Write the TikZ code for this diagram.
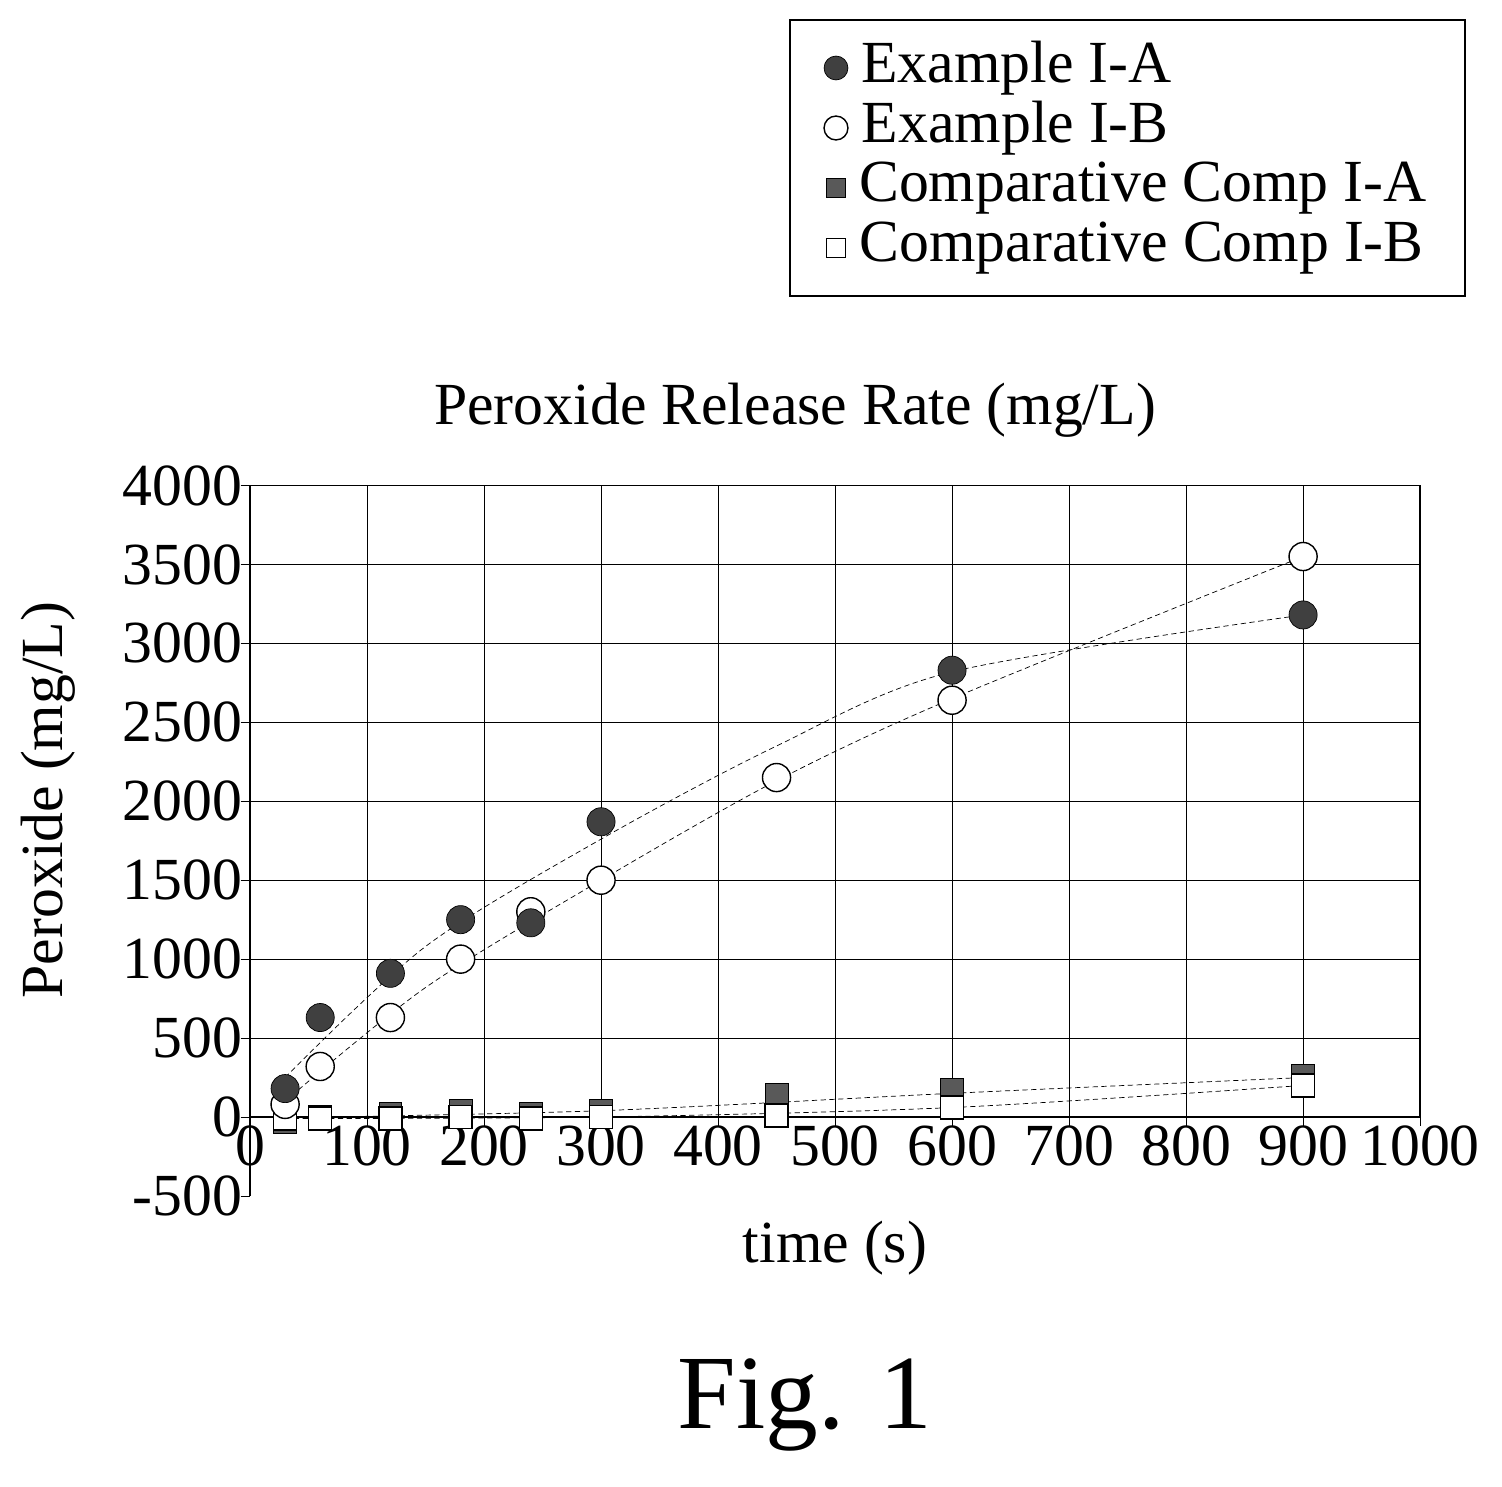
\documentclass[tikz,border=0pt]{standalone}
\usepackage{fontspec}
\setmainfont{Liberation Serif}
\usetikzlibrary{positioning}
\tikzset{
  fullc/.style={circle,fill=black!75,draw=black,inner sep=0pt,minimum size=16pt},
  openc/.style={circle,fill=white,draw=black,thick,inner sep=0pt,minimum size=16pt},
  fulls/.style={rectangle,fill=black!65,draw=black,inner sep=0pt,minimum size=13pt},
  opens/.style={rectangle,fill=white,draw=black,thick,inner sep=0pt,minimum size=13pt},
  trend/.style={densely dashed,thin},
  ticklab/.style={font=\fontsize{34}{34}\selectfont},
  legtext/.style={font=\fontsize{34}{34}\selectfont,anchor=west}
}
\begin{document}
\begin{tikzpicture}[x=0.02cm,y=-0.02cm]
\useasboundingbox (0,0) rectangle (1502,1487);
% legend
\draw[thick] (790,20) rectangle (1465,296);
\foreach \st/\txt [count=\i] in {fullc/Example I-A,openc/Example I-B,fulls/Comparative Comp I-A,opens/Comparative Comp I-B}{
  \node[\st,scale=0.85] (leg\i) at (836,8+60*\i) {};
  \node[legtext,right=4pt of leg\i] (legt\i) {\txt};
}
\node[font=\fontsize{34}{34}\selectfont] (title) at (795,410) {Peroxide Release Rate (mg/L)};
\node[ticklab,rotate=90] (ylab) at (48,800) {Peroxide (mg/L)};
\node[ticklab] (xlab) at (835,1248) {time (s)};
\node[font=\fontsize{60}{60}\selectfont] (fig) at (805,1405) {Fig. 1};
% plot
\begin{scope}[shift={(250,1117)},x=0.0234cm,y=0.00316cm]
  \foreach \t in {100,200,...,900} \draw[thin] (\t,0) -- (\t,4000);
  \foreach \v in {500,1000,...,3500} \draw[thin] (0,\v) -- (1000,\v);
  \draw[thick] (0,-500) -- (0,4000) -- (1000,4000) -- (1000,0);
  \draw[very thick] (0,0) -- (1000,0);
  \foreach \v in {-500,0,500,...,4000} {
    \draw (-8,\v) -- (0,\v);
    \node[ticklab,anchor=east,inner sep=1pt] (yt\v) at (-5,\v) {\v};
  }
  \foreach \t in {0,100,...,1000} {
    \draw (\t,0) -- (\t,-60);
    \node[ticklab,anchor=north,inner sep=1pt] (xt\t) at (\t,-45) {\t};
  }
  \draw[trend] plot[smooth] coordinates {(30,250) (150,1080) (300,1760) (450,2350) (600,2820) (900,3180)};
  \draw[trend] plot[smooth] coordinates {(30,100) (150,820) (300,1500) (450,2130) (600,2650) (900,3550)};
  \draw[trend] plot[smooth] coordinates {(30,-5) (300,40) (600,150) (900,250)};
  \draw[trend] plot[smooth] coordinates {(30,-10) (300,0) (600,60) (900,200)};
  \foreach \t/\v in {30/-30,60/0,120/20,180/40,240/20,300/40,450/140,600/170,900/260}
    \node[fulls] (ca\t) at (\t,\v) {};
  \foreach \t/\v in {30/-10,60/-10,120/-10,180/0,240/-10,300/0,450/10,600/60,900/200}
    \node[opens] (cb\t) at (\t,\v) {};
  \foreach \t/\v in {30/80,60/320,120/630,180/1000,240/1300,300/1500,450/2150,600/2640,900/3550}
    \node[openc] (eb\t) at (\t,\v) {};
  \foreach \t/\v in {30/180,60/630,120/910,180/1250,240/1230,300/1870,600/2830,900/3180}
    \node[fullc] (ea\t) at (\t,\v) {};
\end{scope}
\end{tikzpicture}
\end{document}
